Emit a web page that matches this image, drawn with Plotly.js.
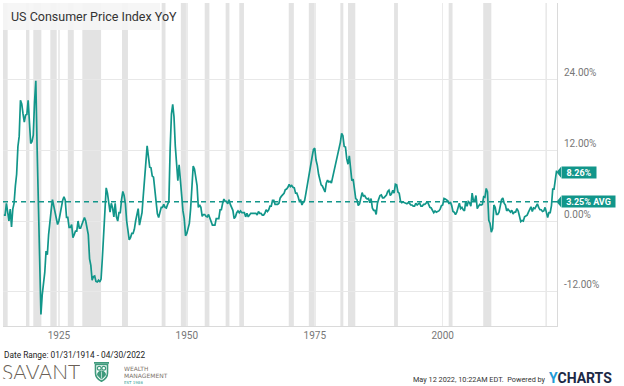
<!DOCTYPE html>
<html><head><meta charset="utf-8">
<script src="https://cdn.plot.ly/plotly-3.0.1.min.js"></script>
<style>html,body{margin:0;padding:0;background:#fff;}#chart{width:624px;height:386px;}</style>
</head><body><div id="chart"></div>
<script>
const seriesName = 'US Consumer Price Index YoY';
const startYear = 1914;
const quarterEnds = ['03-31', '06-30', '09-30', '12-31'];
// CPI YoY %, quarter-end readings from Mar 1914 to Mar 2022
const cpiYoY = [
  1.0, 1.0, 3.0, 1.0,     // 1914
  0.0, 2.0, -1.0, 2.0,    // 1915
  3.0, 5.9, 7.9, 12.6,    // 1916
  14.3, 20.4, 19.8, 18.1, // 1917
  16.7, 17.9, 18.0, 20.4, // 1918
  17.0, 13.1, 13.4, 14.5, // 1919
  20.1, 23.7, 12.4, 2.6,  // 1920
  -7.2, -15.8, -12.5, -10.8, // 1921
  -8.7, -5.1, -5.7, -2.3, // 1922
  0.6, 1.8, 3.6, 2.4,     // 1923
  1.8, 0.0, -0.6, 0.0,    // 1924
  1.2, 2.9, 3.5, 4.1,     // 1925
  3.5, 0.6, 0.6, -1.1,    // 1926
  -1.1, -0.6, -2.8, -2.3, // 1927
  -1.7, -1.7, 0.0, -1.2,  // 1928
  -1.2, -0.6, 0.0, 0.6,   // 1929
  0.0, -1.2, -2.3, -6.4,  // 1930
  -7.5, -10.0, -9.4, -9.3, // 1931
  -10.2, -10.3, -10.0, -10.3, // 1932
  -9.8, -6.3, -2.3, 0.8,  // 1933
  5.6, 4.7, 3.0, 1.5,     // 1934
  3.0, 2.2, 0.7, 3.0,     // 1935
  0.7, 0.0, 1.4, 1.4,     // 1936
  3.6, 5.0, 4.3, 2.9,     // 1937
  0.0, -1.4, -3.2, -2.8,  // 1938
  -2.1, -2.1, -1.4, 0.0,  // 1939
  1.4, 2.1, -0.7, 0.7,    // 1940
  1.4, 4.3, 7.9, 9.9,     // 1941
  12.7, 10.7, 9.1, 9.0,   // 1942
  7.6, 7.4, 5.1, 3.0,     // 1943
  1.2, 0.6, 1.7, 2.3,     // 1944
  2.3, 2.8, 2.3, 2.2,     // 1945
  2.8, 3.3, 12.3, 18.1,   // 1946
  19.7, 17.6, 12.7, 8.8,  // 1947
  6.8, 9.5, 6.5, 3.0,     // 1948
  1.7, 0.4, -2.5, -2.1,   // 1949
  -1.3, -0.4, 2.1, 5.9,   // 1950
  9.3, 8.8, 7.0, 6.0,     // 1951
  2.3, 2.7, 2.3, 0.8,     // 1952
  1.1, 1.1, 0.8, 0.7,     // 1953
  1.1, 0.4, -0.4, -0.7,   // 1954
  -0.7, -0.7, 0.4, 0.4,   // 1955
  0.4, 1.9, 1.9, 3.0,     // 1956
  3.7, 3.3, 3.3, 2.9,     // 1957
  3.6, 2.8, 2.1, 1.8,     // 1958
  0.4, 0.7, 1.4, 1.7,     // 1959
  1.4, 1.7, 1.4, 1.4,     // 1960
  1.4, 0.7, 1.3, 0.7,     // 1961
  1.0, 1.3, 1.3, 1.3,     // 1962
  1.3, 1.3, 1.0, 1.6,     // 1963
  1.3, 1.3, 1.0, 1.0,     // 1964
  1.3, 1.9, 1.6, 1.9,     // 1965
  2.5, 2.5, 3.5, 3.5,     // 1966
  2.8, 2.8, 2.8, 3.0,     // 1967
  3.9, 4.2, 4.4, 4.7,     // 1968
  5.3, 5.4, 5.7, 6.2,     // 1969
  5.8, 6.0, 5.7, 5.6,     // 1970
  4.7, 4.7, 4.1, 3.3,     // 1971
  3.5, 2.7, 3.2, 3.4,     // 1972
  4.6, 6.0, 7.4, 8.7,     // 1973
  10.2, 10.9, 12.1, 12.3, // 1974
  10.3, 9.4, 7.9, 6.9,    // 1975
  6.1, 5.9, 5.5, 4.9,     // 1976
  6.4, 6.9, 6.6, 6.7,     // 1977
  6.4, 7.4, 8.3, 9.0,     // 1978
  10.1, 10.9, 12.2, 13.3, // 1979
  14.8, 14.4, 12.6, 12.5, // 1980
  10.5, 9.6, 11.0, 8.9,   // 1981
  6.8, 7.1, 5.0, 3.8,     // 1982
  3.6, 2.6, 2.9, 3.8,     // 1983
  4.8, 4.2, 4.3, 3.9,     // 1984
  3.7, 3.8, 3.1, 3.8,     // 1985
  2.2, 1.8, 1.8, 1.1,     // 1986
  3.0, 3.7, 4.3, 4.4,     // 1987
  3.9, 3.9, 4.2, 4.4,     // 1988
  5.0, 5.2, 4.3, 4.6,     // 1989
  5.2, 4.7, 6.2, 6.1,     // 1990
  4.9, 4.7, 3.4, 3.1,     // 1991
  3.2, 3.1, 3.0, 2.9,     // 1992
  3.1, 3.0, 2.7, 2.7,     // 1993
  2.5, 2.5, 3.0, 2.7,     // 1994
  2.9, 3.0, 2.5, 2.5,     // 1995
  2.8, 2.8, 3.0, 3.3,     // 1996
  2.8, 2.3, 2.2, 1.7,     // 1997
  1.4, 1.7, 1.5, 1.6,     // 1998
  1.7, 2.0, 2.6, 2.7,     // 1999
  3.8, 3.7, 3.5, 3.4,     // 2000
  2.9, 3.2, 2.6, 1.6,     // 2001
  1.5, 1.1, 1.5, 2.4,     // 2002
  3.0, 2.1, 2.3, 1.9,     // 2003
  1.7, 3.3, 2.5, 3.3,     // 2004
  3.1, 2.5, 4.7, 3.4,     // 2005
  3.4, 4.3, 2.1, 2.5,     // 2006
  2.8, 2.7, 2.8, 4.1,     // 2007
  4.0, 5.5, 4.9, 0.1,     // 2008
  -0.4, -1.9, -1.3, 2.7,  // 2009
  2.3, 1.1, 1.1, 1.5,     // 2010
  2.7, 3.6, 3.9, 3.0,     // 2011
  2.7, 1.7, 2.0, 1.7,     // 2012
  1.5, 1.8, 1.2, 1.5,     // 2013
  1.5, 2.1, 1.7, 0.8,     // 2014
  -0.1, 0.1, 0.0, 0.7,    // 2015
  0.9, 1.0, 1.5, 2.1,     // 2016
  2.4, 1.6, 2.2, 2.1,     // 2017
  2.4, 2.9, 2.3, 1.9,     // 2018
  1.9, 1.6, 1.7, 2.3,     // 2019
  1.5, 0.6, 1.4, 1.4,     // 2020
  2.6, 5.4, 5.4, 7.0,     // 2021
  8.5                     // 2022 Q1
];
const dateStart = '1914-01-31';
const lastDate = '2022-04-30';
const lastValue = 8.26;
const avgValue = 3.25;
const recessionStarts = ['1913-01-01','1918-08-01','1920-01-01','1923-05-01','1926-10-01','1929-08-01','1937-05-01','1945-02-01','1948-11-01','1953-07-01','1957-08-01','1960-04-01','1969-12-01','1973-11-01','1980-01-01','1981-07-01','1990-07-01','2001-03-01','2007-12-01','2020-02-01'];
const recessionEnds   = ['1914-12-31','1919-03-31','1921-07-31','1924-07-31','1927-11-30','1933-03-31','1938-06-30','1945-10-31','1949-10-31','1954-05-31','1958-04-30','1961-02-28','1970-11-30','1975-03-31','1980-07-31','1982-11-30','1991-03-31','2001-11-30','2009-06-30','2020-04-30'];
const xTickYears = [1925, 1950, 1975, 2000];
const yTickValues = [-12, 0, 12, 24];
const yTickLabels = ['-12.00%', '0.00%', '12.00%', '24.00%'];
const dateRangeText = 'Date Range: 01/31/1914 - 04/30/2022';
const stampText = 'May 12 2022, 10:22AM EDT.  Powered by';

const TEAL = '#12968a';
const NARROW = 'Liberation Sans Narrow, Roboto, sans-serif';

const xs = cpiYoY.map((v, i) => `${startYear + Math.floor(i / 4)}-${quarterEnds[i % 4]}`);
xs.push(lastDate);
const ys = cpiYoY.slice();
ys.push(lastValue);

const traces = [
  {x: xs, y: ys, type: 'scatter', mode: 'lines', line: {color: TEAL, width: 1.7}, hoverinfo: 'skip'},
  {x: [dateStart, lastDate], y: [avgValue, avgValue], type: 'scatter', mode: 'lines',
   line: {color: TEAL, width: 1.5, dash: '5px,4px'}, hoverinfo: 'skip'}
];

const shapes = recessionStarts.map((s, i) => ({
  type: 'rect', xref: 'x', yref: 'paper', x0: s, x1: recessionEnds[i], y0: 0, y1: 1,
  fillcolor: '#e3e3e3', line: {width: 0}, layer: 'below'
}));
// title box
shapes.push({type: 'rect', xref: 'paper', yref: 'paper', x0: 0, x1: 157/554, y0: (326-30)/323, y1: 1,
  fillcolor: 'rgba(245,245,245,0.93)', line: {width: 0}, layer: 'above'});
// pointers of value tags
[lastValue, avgValue].forEach(v => shapes.push({
  type: 'path', xref: 'paper', yref: 'y', xsizemode: 'pixel', ysizemode: 'pixel',
  xanchor: 1, yanchor: v, path: 'M-0.5,0 L4,5.5 L4,-5.5 Z', fillcolor: TEAL, line: {width: 0}, layer: 'above'
}));

const py = p => (326 - p) / 323;
const px = p => (p - 3) / 554;

const annotations = [
  {xref: 'paper', yref: 'paper', x: px(9), y: py(16.5), xanchor: 'left', yanchor: 'middle', showarrow: false,
   text: seriesName, font: {family: NARROW, size: 12.5, color: '#333'}},
  {xref: 'paper', yref: 'y', x: 1, y: lastValue, xanchor: 'left', yanchor: 'middle', xshift: 3.5, showarrow: false,
   text: lastValue.toFixed(2) + '%', bgcolor: TEAL, borderpad: 0, width: 34, height: 11,
   font: {family: 'Roboto, sans-serif', size: 9, color: '#fff', weight: 'bold'}},
  {xref: 'paper', yref: 'y', x: 1, y: avgValue, xanchor: 'left', yanchor: 'middle', xshift: 3.5, showarrow: false,
   text: avgValue.toFixed(2) + '% AVG', bgcolor: TEAL, borderpad: 0, width: 53, height: 11,
   font: {family: 'Roboto, sans-serif', size: 9, color: '#fff', weight: 'bold'}},
  {xref: 'paper', yref: 'paper', x: 0, y: py(355), xanchor: 'left', yanchor: 'middle', showarrow: false,
   text: dateRangeText, height: 10, borderpad: 0, font: {family: NARROW, size: 8.3, color: '#222'}},
  {xref: 'paper', yref: 'paper', x: px(1), y: py(371), xanchor: 'left', yanchor: 'middle', showarrow: false,
   text: 'SAVANT', height: 16, borderpad: 0, font: {family: 'Lato, sans-serif', size: 21, color: '#6a5f56', weight: 300}},
  {xref: 'paper', yref: 'paper', x: px(123), y: py(367.5), xanchor: 'left', yanchor: 'middle', showarrow: false,
   text: 'WEALTH', height: 6, borderpad: 0, font: {family: 'DejaVu Sans, sans-serif', size: 6, color: '#7d746c'}},
  {xref: 'paper', yref: 'paper', x: px(123), y: py(374.5), xanchor: 'left', yanchor: 'middle', showarrow: false,
   text: 'MANAGEMENT', height: 6, borderpad: 0, font: {family: 'DejaVu Sans, sans-serif', size: 6, color: '#7d746c'}},
  {xref: 'paper', yref: 'paper', x: px(123), y: py(382), xanchor: 'left', yanchor: 'middle', showarrow: false,
   text: 'EST 1986', height: 4, borderpad: 0, font: {family: 'DejaVu Sans, sans-serif', size: 4, color: '#3aa39a'}},
  {xref: 'paper', yref: 'paper', x: px(547), y: py(379), xanchor: 'right', yanchor: 'middle', showarrow: false,
   text: stampText, height: 9, borderpad: 0, font: {family: NARROW, size: 7.3, color: '#333'}},
  {xref: 'paper', yref: 'paper', x: px(548), y: py(378), xanchor: 'left', yanchor: 'middle', showarrow: false,
   text: '<span style="color:#1f9ad6">Y</span>CHARTS', borderpad: 0,
   font: {family: 'Roboto, sans-serif', size: 14, color: '#1c2945', weight: 'bold'}}
];

const owlSvg = '<svg xmlns="http://www.w3.org/2000/svg" viewBox="0 0 30 40">' +
  '<rect x="0" y="0" width="30" height="3.5" fill="#3f9a7c"/>' +
  '<path d="M3,5 H27 V22 Q27,33 15,38.5 Q3,33 3,22 Z" fill="none" stroke="#3f9a7c" stroke-width="3.2"/>' +
  '<circle cx="10.5" cy="12.5" r="3.8" fill="none" stroke="#3f9a7c" stroke-width="2.4"/>' +
  '<circle cx="19.5" cy="12.5" r="3.8" fill="none" stroke="#3f9a7c" stroke-width="2.4"/>' +
  '<path d="M15,17 Q6,18 6,26 Q10,31 15,35 Q20,31 24,26 Q24,18 15,17 Z" fill="#3f9a7c"/>' +
  '<path d="M15,19 V33" stroke="#fff" stroke-width="1.2"/></svg>';

const layout = {
  width: 624, height: 386,
  margin: {l: 3, r: 67, t: 3, b: 60},
  paper_bgcolor: '#fff', plot_bgcolor: '#fff',
  showlegend: false,
  xaxis: {
    type: 'date', range: [dateStart, lastDate],
    tickmode: 'array', tickvals: xTickYears.map(y => `${y}-01-01`), ticktext: xTickYears.map(String),
    showgrid: true, gridcolor: '#ebebeb', gridwidth: 1.5,
    showline: true, linecolor: '#dadada', linewidth: 1, ticks: '', zeroline: false,
    tickfont: {family: NARROW, size: 10, color: '#777'}, fixedrange: true
  },
  yaxis: {
    side: 'right', range: [-17.75, 36.85],
    tickmode: 'array', tickvals: yTickValues, ticktext: yTickLabels,
    ticklabelposition: 'outside top', ticklabelstandoff: 4,
    showgrid: true, gridcolor: '#e8e8e8', gridwidth: 1, zeroline: false,
    showline: true, linecolor: '#dadada', linewidth: 1, ticks: '',
    tickfont: {family: NARROW, size: 10, color: '#777'}, fixedrange: true
  },
  shapes: shapes,
  annotations: annotations,
  images: [{
    source: 'data:image/svg+xml;charset=utf-8,' + encodeURIComponent(owlSvg),
    xref: 'paper', yref: 'paper', x: px(94), y: py(362), sizex: 15/554, sizey: 20/323,
    xanchor: 'left', yanchor: 'top', sizing: 'stretch', layer: 'above'
  }]
};

Plotly.newPlot('chart', traces, layout, {displayModeBar: false, staticPlot: true});
</script></body></html>
